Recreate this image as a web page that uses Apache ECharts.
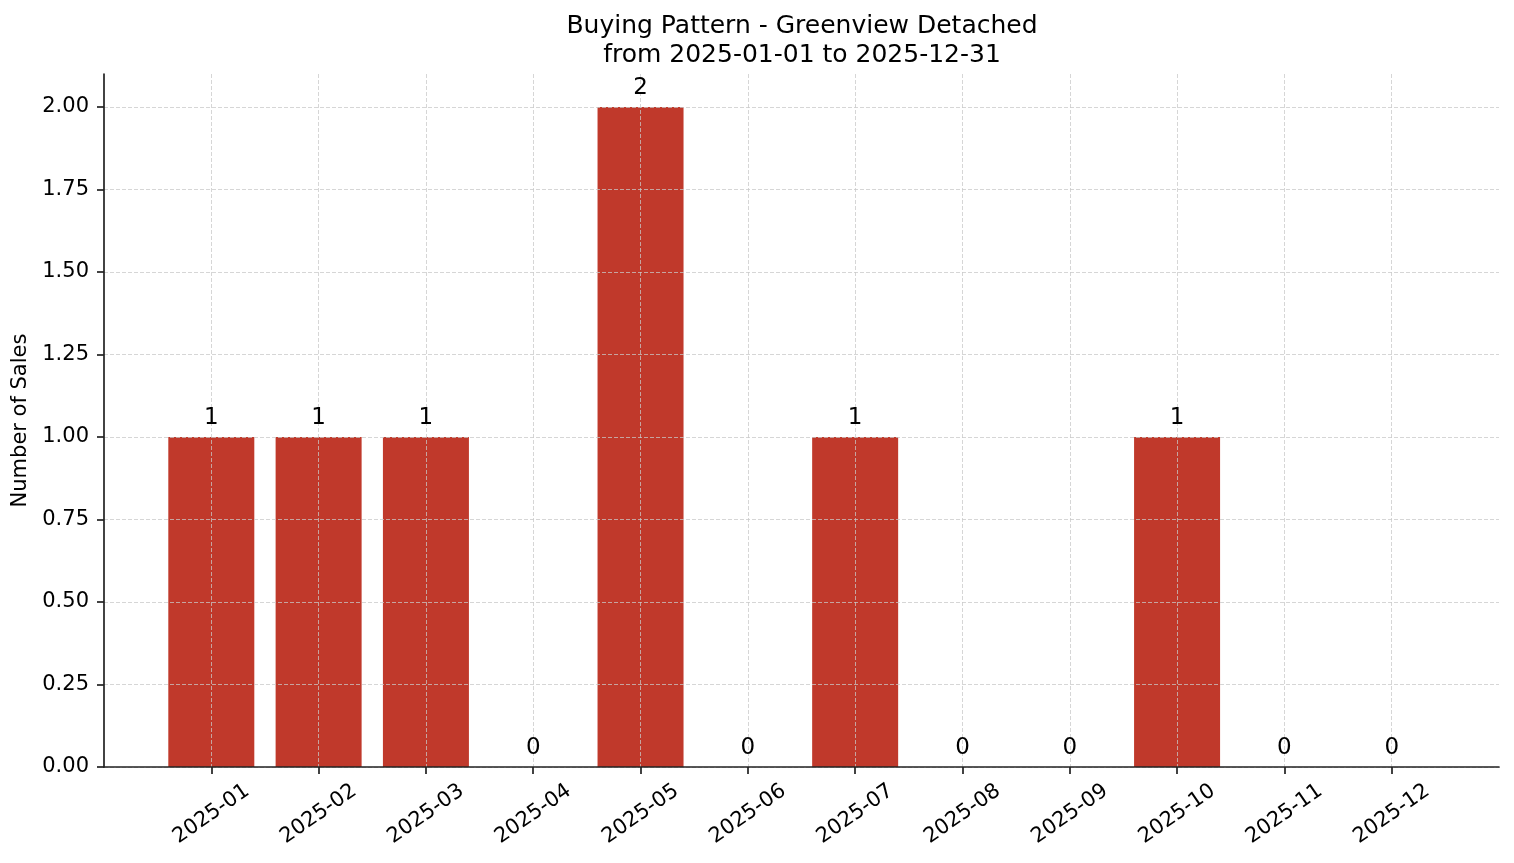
<!DOCTYPE html>
<html>
<head>
<meta charset="utf-8">
<script src="https://cdn.jsdelivr.net/npm/echarts@6/dist/echarts.min.js"></script>
<style>html,body{margin:0;padding:0;background:#fff;}#c{width:1514px;height:863px;}</style>
</head>
<body>
<div id="c"></div>
<script>
var titleLines = ['Buying Pattern - Greenview Detached', 'from 2025-01-01 to 2025-12-31'];
var yAxisName = 'Number of Sales';
var categories = ['2025-01','2025-02','2025-03','2025-04','2025-05','2025-06','2025-07','2025-08','2025-09','2025-10','2025-11','2025-12'];
var sales = [1, 1, 1, 0, 2, 0, 1, 0, 0, 1, 0, 0];
var yTicks = [0, 0.25, 0.5, 0.75, 1.0, 1.25, 1.5, 1.75, 2.0];

var FONT = 'DejaVu Sans';
// pad one empty slot on each side to reproduce the axis margins
var cats = [''].concat(categories, ['']);
var vals = [null].concat(sales, [null]);
var nCat = cats.length;
var inner = function (i) { return i > 0 && i < nCat - 1; };
var gridLineStyle = { color: 'rgba(200,200,200,0.75)', width: 1, type: [4, 2] };
var axisColor = '#222';

var chart = echarts.init(document.getElementById('c'), null, { renderer: 'canvas' });
chart.setOption({
  animation: false,
  backgroundColor: '#ffffff',
  textStyle: { fontFamily: FONT },
  title: {
    text: titleLines.join('\n'),
    left: 797,
    textAlign: 'center',
    top: 7,
    textStyle: { fontFamily: FONT, fontSize: 25, fontWeight: 'normal', color: '#000', lineHeight: 29 }
  },
  grid: { left: 104, right: 15, top: 74, bottom: 96, containLabel: false },
  xAxis: {
    type: 'category',
    data: cats,
    boundaryGap: false,
    z: 5,
    axisLine: { show: true, lineStyle: { color: axisColor, width: 1.7 } },
    axisTick: { show: true, length: 7, interval: function (i) { return inner(i); }, lineStyle: { color: axisColor, width: 1.7 } },
    axisLabel: {
      interval: 0, rotate: 35, align: 'center', verticalAlign: 'middle', margin: 47,
      fontFamily: FONT, fontSize: 21, color: '#000'
    },
    splitLine: { show: true, interval: function (i) { return inner(i); }, lineStyle: gridLineStyle }
  },
  yAxis: {
    type: 'value',
    min: 0, max: 2.1, interval: 0.25,
    z: 5,
    name: yAxisName,
    nameLocation: 'middle',
    nameGap: 66,
    nameTextStyle: { fontFamily: FONT, fontSize: 21, color: '#000' },
    axisLine: { show: true, lineStyle: { color: axisColor, width: 1.7 } },
    axisTick: { show: true, length: 7, customValues: yTicks, lineStyle: { color: axisColor, width: 1.7 } },
    axisLabel: {
      customValues: yTicks, margin: 15,
      fontFamily: FONT, fontSize: 21, color: '#000',
      formatter: function (v) { return Number(v).toFixed(2); }
    },
    splitLine: { show: true, lineStyle: gridLineStyle }
  },
  series: [{
    type: 'bar',
    data: vals,
    barWidth: 86,
    z: 1,
    itemStyle: { color: '#c0392b' },
    label: { show: false }
  }, {
    type: 'bar',
    data: vals,
    barWidth: 86,
    barGap: '-100%',
    z: 10,
    silent: true,
    itemStyle: { color: 'rgba(0,0,0,0)' },
    label: {
      show: true, position: 'top', distance: 7,
      fontFamily: FONT, fontSize: 23, color: '#000',
      formatter: function (p) { return p.value == null ? '' : String(p.value); }
    }
  }]
});
</script>
</body>
</html>
